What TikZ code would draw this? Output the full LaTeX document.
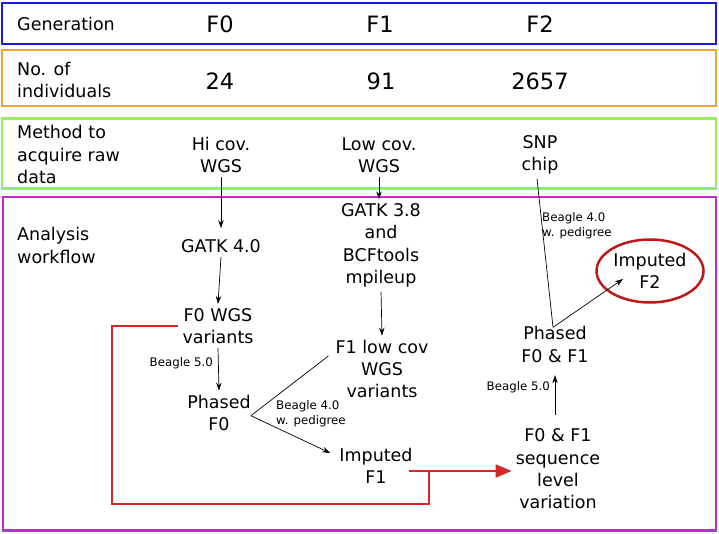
\documentclass[tikz,border=0pt]{standalone}
\usepackage{fontspec}
\setmainfont{DejaVu Sans}
\usetikzlibrary{arrows.meta,shapes.geometric}
\definecolor{genblue}{RGB}{28,28,210}
\definecolor{numorange}{RGB}{232,168,56}
\definecolor{rawgreen}{RGB}{150,240,90}
\definecolor{flowmagenta}{RGB}{204,40,200}
\definecolor{linered}{RGB}{214,40,40}
\definecolor{ovalred}{RGB}{190,25,25}
\begin{document}
\begin{tikzpicture}[x=1pt,y=-1pt,
  txt/.style={inner sep=4pt,align=center,font=\fontsize{17.5}{22.4}\selectfont},
  big/.style={inner sep=4pt,font=\fontsize{22.5}{27}\selectfont},
  rowlbl/.style={txt,anchor=west,align=left},
  note/.style={inner sep=1pt,align=left,font=\fontsize{11.8}{15}\selectfont},
  rowbox/.style={line width=2.5pt},
  arr/.style={-{Stealth[length=8pt,width=5.5pt]},line width=0.7pt},
  plain/.style={line width=0.7pt},
  redline/.style={draw=linered,line width=1.8pt},
  redarr/.style={redline,-{Triangle[length=16pt,width=13pt]}}]
\useasboundingbox (0,0) rectangle (719,534);
% rows
\draw[rowbox,genblue] (2.2,3.2) rectangle (715.8,43.8);
\draw[rowbox,numorange] (2.2,50) rectangle (715.8,106);
\draw[rowbox,rawgreen] (2.2,118.5) rectangle (715.8,188.5);
\draw[rowbox,flowmagenta] (3,197) rectangle (715.8,530.5);
% row labels
\node[rowlbl] (lgen) at (13,24) {Generation};
\node[rowlbl] (lnum) at (13,80) {No. of\\individuals};
\node[rowlbl] (lraw) at (13,154.5) {Method to\\acquire raw\\data};
\node[rowlbl] (lflow) at (13,245.5) {Analysis\\workflow};
% generations
\node[big] (g0) at (220,24) {F0};
\node[big] (g1) at (380,24) {F1};
\node[big] (g2) at (540,24) {F2};
\node[big] (n0) at (220,81) {24};
\node[big] (n1) at (381,81) {91};
\node[big] (n2) at (540,81) {2657};
% raw data
\node[txt] (hicov) at (221,155) {Hi cov.\\WGS};
\node[txt] (lowcov) at (379,155) {Low cov.\\WGS};
\node[txt] (snp) at (540,155) {SNP\\chip};
% workflow
\node[txt] (gatk4) at (221,246) {GATK 4.0};
\node[txt] (f0wgs) at (218,326) {F0 WGS\\variants};
\node[txt] (phasedf0) at (219,412.7) {Phased\\F0};
\node[txt] (gatk38) at (381,245.5) {GATK 3.8\\and\\BCFtools\\mpileup};
\node[txt] (f1low) at (382,369) {F1 low cov\\WGS\\variants};
\node[txt] (impf1) at (376,466) {Imputed\\F1};
\node[txt] (phased01) at (555,344.5) {Phased\\F0 \& F1};
\node[txt] (seq) at (558,469) {F0 \& F1\\sequence\\level\\variation};
\node[txt,ellipse,draw=ovalred,line width=2.5pt,inner sep=0pt,
  minimum width=107pt,minimum height=63pt] (impf2) at (650,271) {Imputed\\F2};
% tool notes
\node[note,anchor=east] (b5a) at (214,363) {Beagle 5.0};
\node[note,anchor=west] (b4a) at (275,414) {Beagle 4.0\\w. pedigree};
\node[note,anchor=west] (b4b) at (541,226) {Beagle 4.0\\w. pedigree};
\node[note,anchor=east] (b5b) at (551,387) {Beagle 5.0};
% F0 branch
\draw[arr,shorten >=7pt] (hicov.south) -- (gatk4.north);
\draw[arr] (gatk4.south) -- (f0wgs.north);
\draw[arr] (f0wgs.south) -- (phasedf0.north);
% F1 branch
\draw[arr] (lowcov.south) -- (lowcov.south |- gatk38.north);
\draw[arr] (gatk38.south) -- (f1low.north);
\coordinate (fork) at ([shift={(-4pt,-3pt)}]phasedf0.east);
\draw[plain] (fork) -- ([shift={(-3pt,13pt)}]f1low.west);
\draw[arr] (fork) -- ([shift={(-5pt,13pt)}]impf1.west);
% F2 branch
\draw[arr,shorten <=10pt,shorten >=8.5pt] (phased01.south |- seq.north) -- (phased01.south);
\coordinate (fork2) at ([shift={(-2pt,-5pt)}]phased01.north);
\draw[plain] ([xshift=-3pt]snp.south) -- (fork2);
\draw[arr] (fork2) -- ([shift={(-27pt,-8pt)}]impf2.center);
% red merge
\coordinate (redout) at ([shift={(-8pt,-5pt)}]impf1.east);
\coordinate (rbl) at (112,504);
\coordinate (rj) at (429,471);
\draw[redline] (f0wgs.west) -| (rbl) -| (rj);
\draw[redarr] (redout) -- (redout -| seq.west);
\end{tikzpicture}
\end{document}
